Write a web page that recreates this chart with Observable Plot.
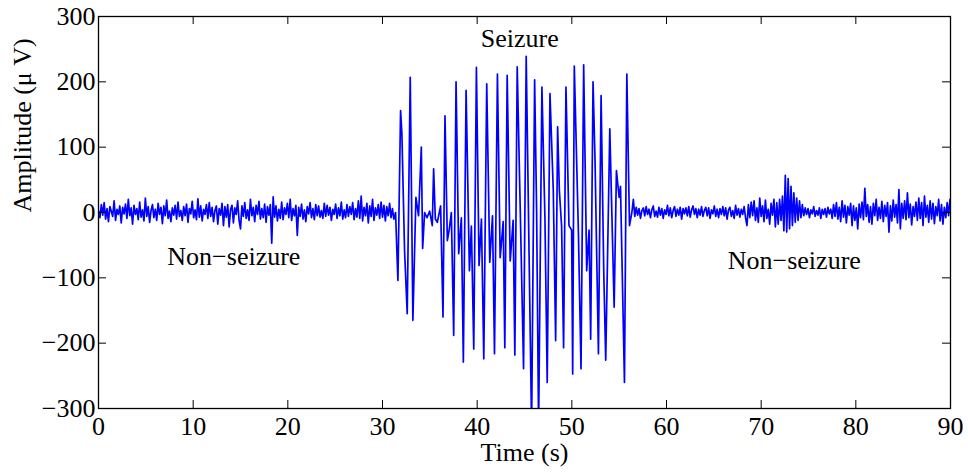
<!DOCTYPE html>
<html><head><meta charset="utf-8">
<script src="https://cdn.jsdelivr.net/npm/d3@7"></script>
<script src="https://cdn.jsdelivr.net/npm/@observablehq/plot@0.6"></script>
<style>body{margin:0;background:#fff}</style>
</head><body><div id="chart"></div><script>
// Tick values
const xTicks = [0, 10, 20, 30, 40, 50, 60, 70, 80, 90];
const yTicks = [-300, -200, -100, 0, 100, 200, 300];

// Pre-seizure EEG (t = 0 .. 31.2 s, every 0.15 s), µV
const preStart = 0, preStep = 0.15;
const preValues = [
  3,-8,12,-4,15,-10,6,-14,9,2,-6,18,-12,5,-3,10,-16,8,-2,13,
  -9,20,-5,7,-18,11,-3,6,-11,16,-7,4,-13,22,-6,9,-15,3,12,-8,
  5,-12,14,-3,8,-17,10,-5,19,-9,2,-14,7,-4,11,-10,16,-6,3,-12,
  9,-5,13,-15,6,-2,17,-8,4,-11,21,-7,10,-13,5,-3,12,-9,15,-6,
  8,-14,3,10,-18,6,-4,14,-20,9,-7,12,-22,5,11,-16,7,-3,18,-12,
  -25,10,-6,15,-9,4,-12,20,-5,8,-14,11,-3,17,-10,6,-8,13,-15,9,
  -4,12,-47,24,-7,10,-13,5,-9,16,-11,7,-3,14,-8,20,-12,6,-5,11,
  -35,8,-6,13,-10,4,-14,9,-2,15,-8,6,-11,12,-5,10,-7,3,-9,14,
  -6,11,-4,8,-12,5,-3,13,-9,7,-5,16,-10,4,-8,12,-6,9,-3,15,
  -11,6,-7,18,-9,25,-13,8,-5,14,-16,10,-6,20,-12,7,-4,12,-9,16,
  -7,11,-13,9,-5,14,-8,6,-10
];

const seizureT = [
  31.38,31.52,31.63,31.91,32.05,32.33,32.61,32.93,33.21,33.53,33.81,34.10,34.24,34.45,34.70,34.98,
  35.26,35.40,35.58,35.79,36.14,36.39,36.60,36.85,37.06,37.27,37.52,37.77,38.05,38.33,38.54,38.83,
  39.18,39.39,39.64,39.92,40.20,40.45,40.70,41.01,41.33,41.62,41.83,42.14,42.43,42.75,42.92,43.17,
  43.49,43.80,43.98,44.23,44.62,44.90,45.18,45.75,46.07,46.28,46.49,46.84,47.16,47.40,47.69,48.04,
  48.29,48.50,48.68,48.92,49.13,49.38,49.70,49.98,50.09,50.26,50.69,50.97,51.25,51.57,51.82,51.99,
  52.24,52.45,52.81,53.09,53.37,53.58,54.01,54.47,54.71,55.00,55.14,55.56,55.81,56.09,56.34
];
const seizureV = [
  0,-60,-104,156,120,-58,-155,207,-165,23,-5,100,-55,0,-8,2,
  -20,67,-10,-15,10,-160,148,-43,-25,0,-188,200,-63,-8,-229,187,
  -89,-21,-209,222,-81,-10,-224,197,-76,-5,-216,212,-69,-14,-207,210,
  -74,-12,-218,223,-43,-239,239,-330,203,2,-330,192,-10,-260,182,34,
  -196,131,34,-21,-207,192,-20,-27,-247,224,-27,-239,226,-89,-27,-194,
  200,80,-216,179,-89,-226,128,-145,64,23,40,-260,212,-20,0
];

// Post-seizure EEG (t = 56.5 .. 89.95 s, every 0.15 s), µV
const postStart = 56.5, postStep = 0.15;
const postValues = [
  20,-6,8,-4,6,-9,3,7,-5,9,-3,5,-8,4,10,-6,2,-7,8,-4,
  6,-9,4,-3,11,-5,7,-8,3,9,-6,5,-4,8,-10,6,-2,7,-5,9,
  -7,4,10,-3,6,-8,5,-4,9,-6,3,8,-5,7,-9,4,-2,10,-6,5,
  -8,6,-3,9,-5,7,-10,4,8,-6,3,-9,11,-4,6,-7,5,-3,9,-8,
  -20,12,-8,16,-5,18,-12,7,-15,22,-6,10,-14,19,-9,5,-18,14,-4,20,
  -22,15,-18,20,-12,25,-28,57,-30,52,-25,40,-20,30,-15,22,-12,18,-8,12,
  -5,7,-3,6,-8,4,-2,9,-6,3,-4,7,-9,5,-3,6,-7,8,-2,5,
  -9,12,-6,15,-10,8,-14,18,-7,11,-16,9,-4,14,-20,10,-12,7,-25,13,
  -8,16,-11,37,-6,12,-15,9,-18,14,-5,20,-12,8,-9,17,-14,11,-6,15,
  -30,10,-13,19,-7,12,-16,35,-25,14,-9,18,-11,30,-8,13,-19,9,-6,16,
  -12,22,-9,15,-20,25,-7,11,-15,18,-10,14,-17,9,-5,20,-13,12,-18,8,
  -8,15,-5,20
];

// Annotations
const annLabels = ["Seizure", "Non\u2212seizure", "Non\u2212seizure"];
const annX = [44.5, 14.3, 73.5];
const annY = [266, -67, -73];

const xLabel = "Time (s)";
const yLabel = "Amplitude (\u03bc V)";

// Build the table
const data = [];
preValues.forEach((v, i) => data.push({t: +(preStart + i * preStep).toFixed(2), v}));
seizureT.forEach((t, i) => data.push({t, v: seizureV[i]}));
postValues.forEach((v, i) => data.push({t: +(postStart + i * postStep).toFixed(2), v}));
const ann = annLabels.map((s, i) => ({s, x: annX[i], y: annY[i]}));

const chart = Plot.plot({
  width: 968,
  height: 473,
  marginLeft: 98,
  marginRight: 18,
  marginTop: 16,
  marginBottom: 65,
  style: {background: "white", color: "black", fontFamily: "'Liberation Serif', 'Times New Roman', serif", fontSize: "26px", overflow: "visible"},
  x: {domain: [0, 90]},
  y: {domain: [-300, 300]},
  marks: [
    Plot.line(data, {x: "t", y: "v", stroke: "#0000ff", strokeWidth: 1.7, clip: true}),
    // inward ticks on all four sides
    Plot.ruleX(xTicks, {x: d => d, insetTop: 384, stroke: "black", strokeWidth: 1}),
    Plot.ruleX(xTicks, {x: d => d, insetBottom: 384, stroke: "black", strokeWidth: 1}),
    Plot.ruleY(yTicks, {y: d => d, insetRight: 844, stroke: "black", strokeWidth: 1}),
    Plot.ruleY(yTicks, {y: d => d, insetLeft: 844, stroke: "black", strokeWidth: 1}),
    Plot.frame({stroke: "black", strokeWidth: 1.3}),
    Plot.axisX({ticks: xTicks, tickSize: 0, tickPadding: 8, label: null, fontSize: 26}),
    Plot.axisY({ticks: yTicks, tickSize: 0, tickPadding: 3, label: null, fontSize: 26}),
    Plot.text([xLabel], {text: d => d, frameAnchor: "bottom", dy: 52, fontSize: 26, fill: "black"}),
    Plot.text([yLabel], {text: d => d, frameAnchor: "left", dx: -76, rotate: -90, fontSize: 26, fill: "black"}),
    Plot.text(ann, {x: "x", y: "y", text: "s", fontSize: 26, fill: "black"})
  ]
});
document.getElementById("chart").appendChild(chart);
</script></body></html>
